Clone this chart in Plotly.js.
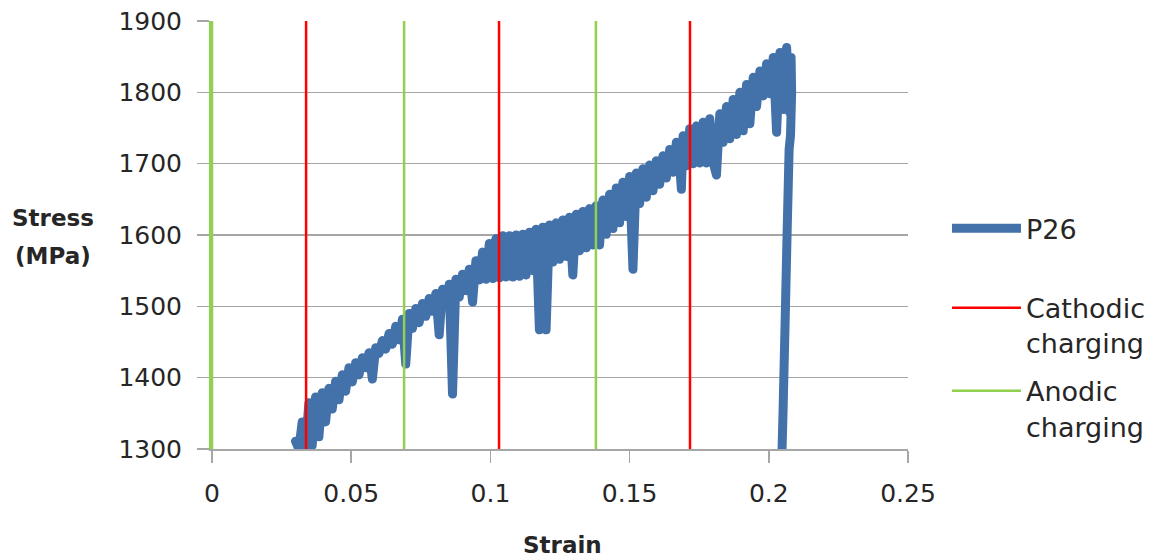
<!DOCTYPE html>
<html>
<head>
<meta charset="utf-8">
<script src="https://cdn.plot.ly/plotly-3.0.1.min.js"></script>
<style>
html,body{margin:0;padding:0;background:#fff;}
.scatterlayer path.js-line{stroke-linejoin:round !important;stroke-linecap:round !important;}
</style>
</head>
<body>
<div id="chart" style="width:1153px;height:558px;"></div>
<script>
// P26 stress-strain record
var strain = [
0.0300,0.0312,0.0324,0.0336,0.0348,0.0360,0.0372,0.0384,0.0396,0.0408,
0.0420,0.0432,0.0444,0.0456,0.0468,0.0480,0.0492,0.0504,0.0516,0.0528,
0.0540,0.0552,0.0564,0.0576,0.0588,0.0600,0.0612,0.0624,0.0636,0.0648,
0.0660,0.0672,0.0684,0.0696,0.0708,0.0720,0.0732,0.0744,0.0756,0.0768,
0.0780,0.0792,0.0804,0.0816,0.0828,0.0840,0.0852,0.0864,0.0876,0.0888,
0.0900,0.0912,0.0924,0.0936,0.0948,0.0960,0.0972,0.0984,0.0996,0.1008,
0.1020,0.1032,0.1044,0.1056,0.1068,0.1080,0.1092,0.1104,0.1116,0.1128,
0.1140,0.1152,0.1164,0.1176,0.1188,0.1200,0.1212,0.1224,0.1236,0.1248,
0.1260,0.1272,0.1284,0.1296,0.1308,0.1320,0.1332,0.1344,0.1356,0.1368,
0.1380,0.1392,0.1404,0.1416,0.1428,0.1440,0.1452,0.1464,0.1476,0.1488,
0.1500,0.1512,0.1524,0.1536,0.1548,0.1560,0.1572,0.1584,0.1596,0.1608,
0.1620,0.1632,0.1644,0.1656,0.1668,0.1680,0.1686,0.1692,0.1704,0.1716,0.1728,
0.1740,0.1752,0.1764,0.1776,0.1788,0.1800,0.1812,0.1824,0.1836,0.1848,
0.1860,0.1872,0.1884,0.1896,0.1908,0.1920,0.1932,0.1944,0.1956,0.1968,
0.1980,0.1992,0.2004,0.2016,0.2028,0.2040,0.2052,0.2064,0.2076,
0.2080,0.2082,0.2078,0.2073,0.2066,0.2058,0.2051,0.2047];

var stress = [
1311,1300,1338,1303,1365,1305,1373,1317,1379,1338,
1385,1356,1395,1369,1404,1381,1414,1394,1421,1404,
1428,1414,1435,1398,1442,1434,1452,1440,1462,1447,
1472,1453,1482,1419,1490,1469,1497,1477,1504,1486,
1511,1493,1518,1460,1524,1503,1531,1377,1538,1513,
1545,1522,1552,1506,1564,1537,1576,1538,1588,1539,
1595,1540,1599,1541,1599,1541,1600,1542,1601,1544,
1604,1550,1608,1467,1611,1467,1614,1562,1617,1566,
1621,1570,1625,1544,1629,1578,1633,1582,1637,1586,
1641,1586,1649,1601,1657,1609,1666,1617,1674,1626,
1682,1552,1687,1644,1693,1653,1698,1662,1704,1671,
1711,1680,1720,1688,1730,1697,1664,1739,1697,1749,1700,
1753,1701,1758,1701,1763,1702,1684,1770,1730,1780,
1735,1790,1741,1800,1746,1811,1756,1821,1780,1830,
1795,1840,1798,1849,1744,1856,1776,1863,1771,
1849,1800,1740,1720,1607,1467,1350,1290];

// Charging switch positions (strain)
var cathodicStrain = [0.0338, 0.1031, 0.1717];
var anodicStrain   = [0.0000, 0.0690, 0.1379];
var stressSpan = [1300, 1900];

// Axis ticks
var xTickVals = [0, 0.05, 0.1, 0.15, 0.2, 0.25];
var xTickText = ['0', '0.05', '0.1', '0.15', '0.2', '0.25'];
var yTickVals = [1300, 1400, 1500, 1600, 1700, 1800, 1900];

function verticals(xs) {
  var X = [], Y = [];
  xs.forEach(function (v, i) {
    if (i > 0) { X.push(null); Y.push(null); }
    X.push(v, v); Y.push(stressSpan[0], stressSpan[1]);
  });
  return {x: X, y: Y};
}
var cath = verticals(cathodicStrain);
var anod = verticals(anodicStrain);

var traces = [
  {x: strain, y: stress, type: 'scatter', mode: 'lines', name: 'P26', legend: 'legend',
   line: {color: '#4371A9', width: 9, simplify: false}},
  {x: cath.x, y: cath.y, type: 'scatter', mode: 'lines', name: 'Cathodic<br>charging',
   legend: 'legend2', connectgaps: false, line: {color: '#FF0000', width: 2.5, simplify: false}},
  {x: anod.x, y: anod.y, type: 'scatter', mode: 'lines', name: 'Anodic<br>charging',
   legend: 'legend3', connectgaps: false, line: {color: '#92D050', width: 2.5, simplify: false}}
];

var txt = '#262626';
function leg(y) {
  return {x: 1.056, y: y, xanchor: 'left', yanchor: 'top',
          bgcolor: 'rgba(0,0,0,0)', font: {size: 27, color: txt},
          valign: 'top', itemwidth: 69};
}
var layout = {
  width: 1153, height: 558,
  margin: {l: 212, r: 245, t: 21, b: 109, pad: 0, autoexpand: false},
  paper_bgcolor: '#ffffff', plot_bgcolor: '#ffffff',
  font: {family: 'DejaVu Sans', size: 25, color: txt},
  showlegend: true,
  legend: leg(0.572),
  legend2: leg(0.386),
  legend3: leg(0.192),
  xaxis: {range: [0, 0.25], tickvals: xTickVals, ticktext: xTickText,
          ticks: 'outside', ticklen: 12, tickwidth: 1.5, tickcolor: '#A6A6A6',
          showgrid: false, zeroline: false, showline: true,
          linecolor: '#A6A6A6', linewidth: 1.5, ticklabelstandoff: 9,
          tickfont: {size: 25, color: txt}, fixedrange: true},
  yaxis: {range: [1300, 1900], tickvals: yTickVals,
          ticks: 'outside', ticklen: 12, tickwidth: 1.5, tickcolor: '#A6A6A6',
          showgrid: true, gridcolor: '#A6A6A6', gridwidth: 1.5,
          zeroline: false, showline: true, linecolor: '#92D050', linewidth: 3,
          ticklabelstandoff: 10, tickfont: {size: 25, color: txt}, fixedrange: true},
  annotations: [
    {text: '<b>Stress</b>', xref: 'paper', yref: 'paper',
     x: -0.2284, y: 0.5397, xanchor: 'center', yanchor: 'middle', showarrow: false,
     font: {size: 23, color: txt}},
    {text: '<b>(MPa)</b>', xref: 'paper', yref: 'paper',
     x: -0.2284, y: 0.4509, xanchor: 'center', yanchor: 'middle', showarrow: false,
     font: {size: 23, color: txt}},
    {text: '<b>Strain</b>', xref: 'paper', yref: 'paper',
     x: 0.504, y: -0.224, xanchor: 'center', yanchor: 'middle', showarrow: false,
     font: {size: 23, color: txt}}
  ]
};

Plotly.newPlot('chart', traces, layout, {displayModeBar: false, staticPlot: true});
</script>
</body>
</html>
